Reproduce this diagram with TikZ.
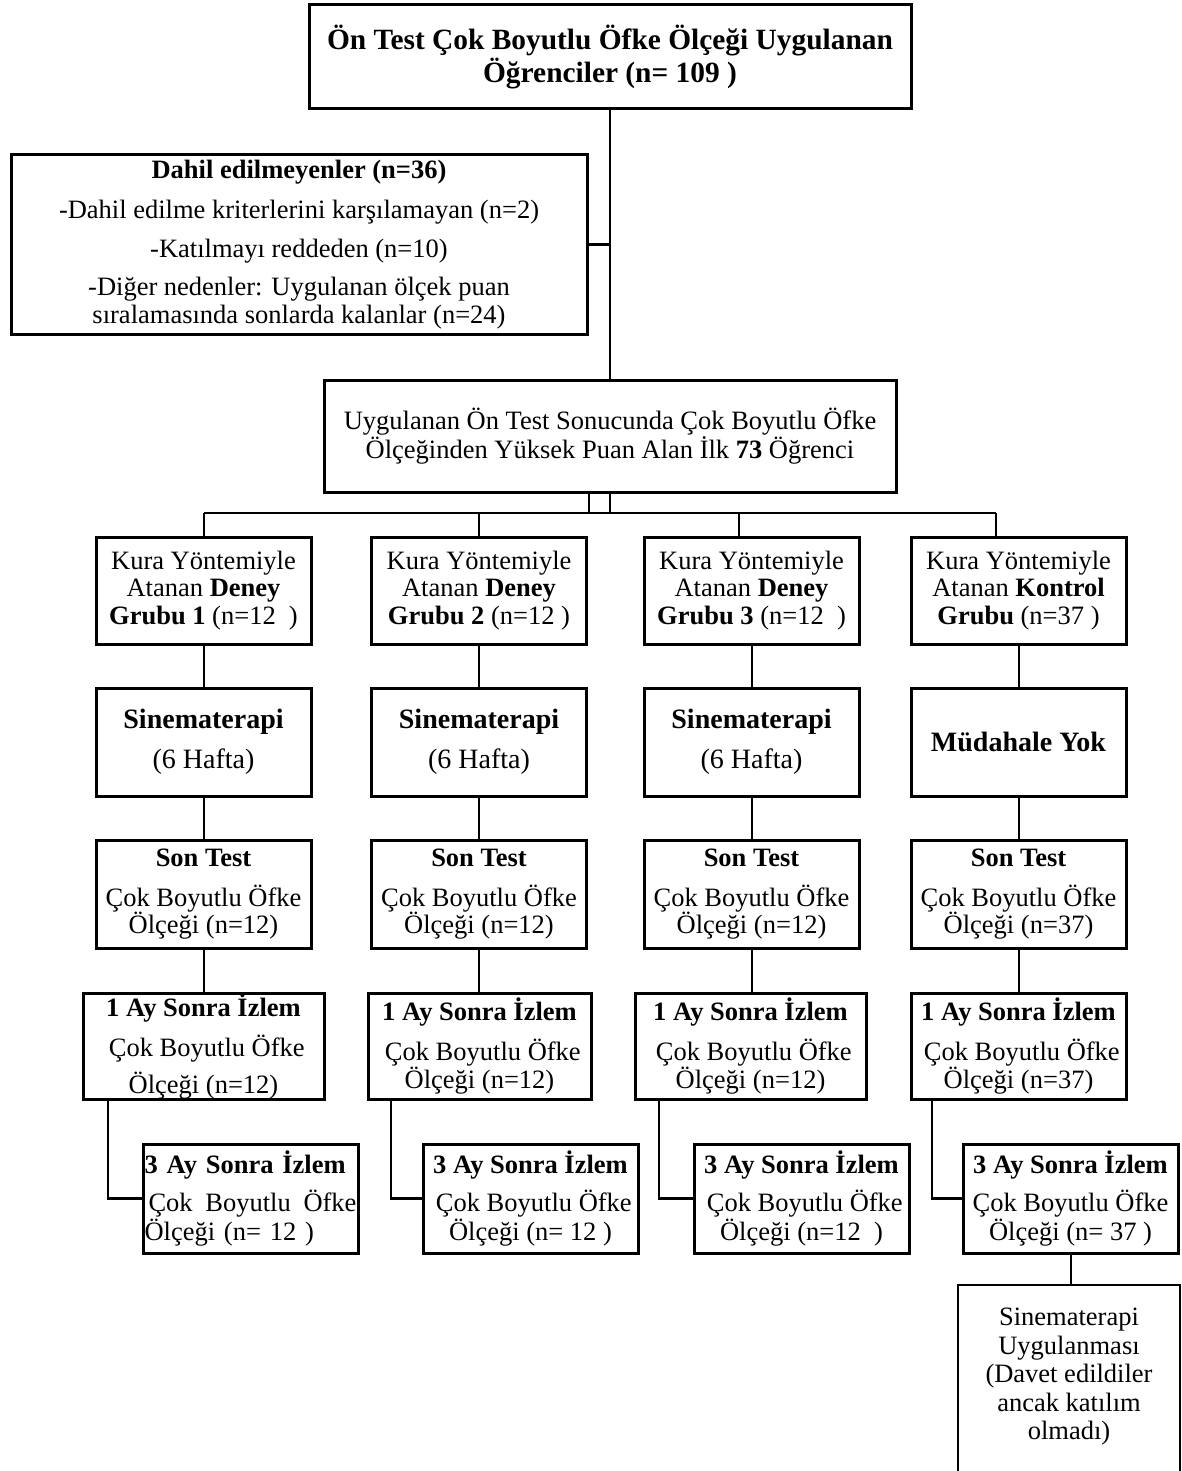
\documentclass[tikz,border=0pt]{standalone}
\usepackage{fontspec}
\setmainfont{Liberation Serif}
\newcommand\fsbody{\fontsize{13.25}{13.75}\selectfont}
\newcommand\fstitle{\fontsize{14.7}{14.5}\selectfont}
\newcommand\fsbig{\fontsize{14}{14}\selectfont}
\newcommand\fsfinal{\fontsize{13.25}{14.25}\selectfont}
\tikzset{
  bx/.style={draw, line width=1.5pt, inner sep=0pt, align=center, font=\fsbody},
  colbox/.style={bx, minimum width=107.5pt, minimum height=54pt},
  ln/.style={line width=1pt},
  lnk/.style={line width=1.3pt},
}
\begin{document}
\begin{tikzpicture}[x=0.5pt,y=-0.5pt]
\useasboundingbox (0,0) rectangle (1182,1471);
\clip (0,0) rectangle (1182,1471);
\fill[white] (0,0) rectangle (1182,1471);

% top part
\node[bx, font=\fstitle, minimum width=301pt, minimum height=52pt] (T) at (610,57)
  {\textbf{Ön Test Çok Boyutlu Öfke Ölçeği Uygulanan}\\\textbf{Öğrenciler (n= 109 )}};
\node[bx, minimum width=288pt, minimum height=89.5pt] (D) at (299,244.5)
  {\textbf{Dahil edilmeyenler (n=36)}\\[6.25pt]-Dahil edilme kriterlerini karşılamayan (n=2)\\[5.75pt]-Katılmayı reddeden (n=10)\\[5.25pt]-Diğer nedenler: Uygulanan ölçek puan\\sıralamasında sonlarda kalanlar (n=24)};
\node[bx, minimum width=286pt, minimum height=56pt] (M) at (610,436)
  {Uygulanan Ön Test Sonucunda Çok Boyutlu Öfke\\Ölçeğinden Yüksek Puan Alan İlk \textbf{73} Öğrenci};

% group boxes
\node[colbox, minimum height=53.5pt] (K1) at (203.5,590.5) {Kura Yöntemiyle\\Atanan \textbf{Deney}\\\textbf{Grubu 1} (n=12\ \ )};
\node[colbox, minimum height=53.5pt] (K2) at (479,590.5) {Kura Yöntemiyle\\Atanan \textbf{Deney}\\\textbf{Grubu 2} (n=12 )};
\node[colbox, minimum height=53.5pt] (K3) at (751.5,590.5) {Kura Yöntemiyle\\Atanan \textbf{Deney}\\\textbf{Grubu 3} (n=12\ \ )};
\node[colbox, minimum height=53.5pt] (K4) at (1018.5,590.5) {Kura Yöntemiyle\\Atanan \textbf{Kontrol}\\\textbf{Grubu} (n=37 )};

\node[colbox, font=\fsbig] (S1) at (203.5,742) {\textbf{Sinematerapi}\\[6pt](6 Hafta)};
\node[colbox, font=\fsbig] (S2) at (479,742) {\textbf{Sinematerapi}\\[6pt](6 Hafta)};
\node[colbox, font=\fsbig] (S3) at (751.5,742) {\textbf{Sinematerapi}\\[6pt](6 Hafta)};
\node[colbox, font=\fsbig] (S4) at (1018.5,742) {\textbf{Müdahale Yok}};

\node[colbox] (P1) at (203.5,894) {\textbf{Son Test}\\[6.25pt]Çok Boyutlu Öfke\\Ölçeği (n=12)};
\node[colbox] (P2) at (479,894) {\textbf{Son Test}\\[6.25pt]Çok Boyutlu Öfke\\Ölçeği (n=12)};
\node[colbox] (P3) at (751.5,894) {\textbf{Son Test}\\[6.25pt]Çok Boyutlu Öfke\\Ölçeği (n=12)};
\node[colbox] (P4) at (1018.5,894) {\textbf{Son Test}\\[6.25pt]Çok Boyutlu Öfke\\Ölçeği (n=37)};

\node[bx, minimum width=120.5pt, minimum height=53pt] (A1) at (203.5,1046) {\textbf{1 Ay Sonra İzlem}\\[6.25pt]\ Çok Boyutlu Öfke\\[4.75pt]Ölçeği (n=12)};
\node[bx, minimum width=111.5pt, minimum height=53pt] (A2) at (479.5,1046) {\textbf{1 Ay Sonra İzlem}\\[6.25pt]\ Çok Boyutlu Öfke\\Ölçeği (n=12)};
\node[bx, minimum width=115.5pt, minimum height=53pt] (A3) at (750.5,1046) {\textbf{1 Ay Sonra İzlem}\\[6.25pt]\ Çok Boyutlu Öfke\\Ölçeği (n=12)};
\node[bx, minimum width=107.5pt, minimum height=53pt] (A4) at (1018.5,1046) {\textbf{1 Ay Sonra İzlem}\\[6.25pt]\ Çok Boyutlu Öfke\\Ölçeği (n=37)};

\node[bx, minimum width=107.5pt, minimum height=54.5pt, align=left, text width=106pt, inner xsep=0.75pt] (B1) at (250.5,1198.5)
  {\leavevmode\hbox{\textbf{3 Ay Sonra İzlem}}\\[5.25pt]\leavevmode\hbox to 106pt{\hspace{2pt}Çok\hfill Boyutlu\hfill Öfke}\\[0.75pt]\leavevmode\hbox{Ölçeği (n= 12 )}};
\node[colbox, minimum height=54.5pt] (B2) at (530.5,1198.5) {\textbf{3 Ay Sonra İzlem}\\[5.25pt]\ Çok Boyutlu Öfke\\[0.75pt]Ölçeği (n= 12 )};
\node[colbox, minimum height=54.5pt] (B3) at (801.5,1198.5) {\textbf{3 Ay Sonra İzlem}\\[5.25pt]\ Çok Boyutlu Öfke\\[0.75pt]Ölçeği (n=12\ \ )};
\node[colbox, minimum height=54.5pt] (B4) at (1070.5,1198.5) {\textbf{3 Ay Sonra İzlem}\\[5.25pt]Çok Boyutlu Öfke\\[0.75pt]Ölçeği (n= 37 )};

\node[draw, line width=0.9pt, minimum width=111pt, minimum height=102.5pt, inner sep=0pt] (FB) at (1069,1387.5) {};
\node[align=center, font=\fsfinal, inner sep=0pt] (FBt) at (1069,1377)
  {Sinematerapi\\Uygulanması\\(Davet edildiler\\ancak katılım\\olmadı)};

% connectors
\draw[ln] (T.south) -- (T.south |- M.north);
\draw[lnk] (D.east) -- (D.east -| T.south);

\coordinate (busL) at (203.5,513);
\coordinate (busR) at (996,513);
\coordinate (d3) at (739,513);
\draw[ln] ([xshift=-10.5pt]M.south) -- ([xshift=-10.5pt]M.south |- busL);
\draw[lnk] (M.south) -- (M.south |- busL);
\draw[lnk] (busL) -- (busR);
\draw[ln] (busL) -- (K1.north);
\draw[ln] (busL -| K2.north) -- (K2.north);
\draw[ln] (d3) -- (d3 |- K3.north);
\draw[ln] (busR) -- (busR |- K4.north);

\foreach \i in {1,2,3,4}{
  \draw[ln] (K\i.south) -- (K\i.south |- S\i.north);
  \draw[ln] (S\i.south) -- (S\i.south |- P\i.north);
  \draw[ln] (P\i.south) -- (P\i.south |- A\i.north);
}

\draw[lnk] ([xshift=-47.75pt]A1.south) |- (B1.west);
\draw[lnk] ([xshift=-44.25pt]A2.south) |- (B2.west);
\draw[lnk] ([xshift=-45.75pt]A3.south) |- (B3.west);
\draw[lnk] ([xshift=-43.25pt]A4.south) |- (B4.west);

\draw[ln] (B4.south) -- (B4.south |- FB.north);
\end{tikzpicture}
\end{document}
